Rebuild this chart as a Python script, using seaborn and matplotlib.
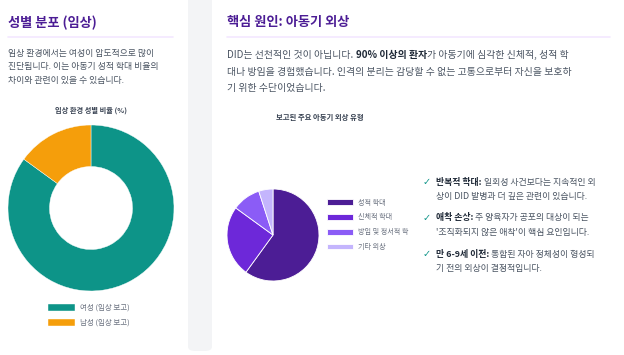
import numpy as np
import matplotlib
matplotlib.use("Agg")
import matplotlib.pyplot as plt
import seaborn as sns
from matplotlib.patches import FancyBboxPatch
from matplotlib.lines import Line2D

# data
gender_labels = ["여성 (임상 보고)", "남성 (임상 보고)"]
gender_values = [85, 15]
gender_colors = ["#0d9488", "#f59e0b"]

trauma_labels = ["성적 학대", "신체적 학대", "방임 및 정서적 학", "기타 외상"]
trauma_values = [60, 25, 10, 5]
trauma_colors = ["#4c1d95", "#6d28d9", "#8b5cf6", "#c4b5fd"]

sns.set_theme(style="white")
plt.rcParams["font.family"] = ["Noto Sans CJK KR", "DejaVu Sans"]

W, H = 624, 355
fig = plt.figure(figsize=(W / 100, H / 100), dpi=100)
fig.patch.set_facecolor("white")
renderer = fig.canvas.get_renderer()


def px(x):
    return x / W


def py(y):
    return 1 - y / H


def box(x0, y0, x1, y1):
    return [px(x0), py(y1), px(x1) - px(x0), py(y0) - py(y1)]


# background gap between the cards
gap = FancyBboxPatch((px(188), py(351)), px(24), py(0) - py(351) + 0.02,
                     boxstyle="round,pad=0,rounding_size=0.012",
                     transform=fig.transFigure, facecolor="#f3f4f6",
                     edgecolor="none", zorder=0)
fig.patches.append(gap)

TITLE_C = "#4c1d95"
TEXT_C = "#4b5563"
DARK_C = "#1f2937"
RULE_C = "#f3e8ff"


def seg_line(x, y, parts, size):
    for txt, bold, color in parts:
        t = fig.text(px(x), py(y), txt, fontsize=size,
                     fontweight="bold" if bold else "normal",
                     color=color, ha="left", va="center")
        x += t.get_window_extent(renderer).width


# ---- left card ----
fig.text(px(8), py(23), "성별 분포 (임상)", fontsize=9.5, fontweight="bold",
         color=TITLE_C, ha="left", va="center")
fig.add_artist(Line2D([px(8), px(173)], [py(37), py(37)], color=RULE_C,
                      lw=1.2, transform=fig.transFigure))
for i, line in enumerate(["임상 환경에서는 여성이 압도적으로 많이",
                          "진단됩니다. 이는 아동기 성적 학대 비율의",
                          "차이와 관련이 있을 수 있습니다."]):
    fig.text(px(8), py(53 + i * 13.5), line, fontsize=6.4, color=TEXT_C,
             ha="left", va="center")
fig.text(px(91), py(110), "임상 환경 성별 비율 (%)", fontsize=5.2,
         fontweight="bold", color="#374151", ha="center", va="center")

ax1 = fig.add_axes(box(8, 125, 174, 291))
w1, _ = ax1.pie(gender_values, colors=gender_colors, startangle=90,
                counterclock=False, radius=1,
                wedgeprops=dict(width=0.5, edgecolor="white", linewidth=0.3))
ax1.set_xlim(-1, 1)
ax1.set_ylim(-1, 1)
ax1.set_aspect("equal")
ax1.axis("off")
fig.legend(w1, gender_labels, loc="upper left",
           bbox_to_anchor=(px(48), py(304)), frameon=False, fontsize=5.4,
           handlelength=3.6, handleheight=1.05, handletextpad=0.7,
           labelspacing=0.9, borderpad=0, borderaxespad=0,
           labelcolor="#6b7280")

# ---- right card ----
fig.text(px(227), py(22), "핵심 원인: 아동기 외상", fontsize=9.5,
         fontweight="bold", color=TITLE_C, ha="left", va="center")
fig.add_artist(Line2D([px(227), px(610)], [py(37), py(37)], color=RULE_C,
                      lw=1.2, transform=fig.transFigure))
seg_line(227, 55, [("DID는 선천적인 것이 아닙니다. ", False, TEXT_C),
                   ("90% 이상의 환자", True, DARK_C),
                   ("가 아동기에 심각한 신체적, 성적 학", False, TEXT_C)], 7.1)
seg_line(227, 72, [("대나 방임을 경험했습니다. 인격의 분리는 감당할 수 없는 고통으로부터 자신을 보호하",
                    False, TEXT_C)], 7.1)
seg_line(227, 88, [("기 위한 수단이었습니다.", False, TEXT_C)], 7.1)

fig.text(px(320), py(117), "보고된 주요 아동기 외상 유형", fontsize=5.3,
         fontweight="bold", color="#374151", ha="center", va="center")

ax2 = fig.add_axes(box(227, 189, 319, 281))
w2, _ = ax2.pie(trauma_values, colors=trauma_colors, startangle=90,
                counterclock=False, radius=1,
                wedgeprops=dict(edgecolor="white", linewidth=0.6))
ax2.set_xlim(-1, 1)
ax2.set_ylim(-1, 1)
ax2.set_aspect("equal")
ax2.axis("off")
fig.legend(w2, trauma_labels, loc="upper left",
           bbox_to_anchor=(px(327), py(198.5)), frameon=False, fontsize=5.1,
           handlelength=3.66, handleheight=0.85, handletextpad=0.7,
           labelspacing=0.97, borderpad=0, borderaxespad=0,
           labelcolor="#6b7280")

bullets = [
    ("반복적 학대:", " 일회성 사건보다는 지속적인 외", "상이 DID 발병과 더 깊은 관련이 있습니다."),
    ("애착 손상:", " 주 양육자가 공포의 대상이 되는", "'조직화되지 않은 애착'이 핵심 요인입니다."),
    ("만 6-9세 이전:", " 통합된 자아 정체성이 형성되", "기 전의 외상이 결정적입니다."),
]
for i, (lead, rest, second) in enumerate(bullets):
    y = 182 + i * 36
    fig.text(px(427), py(y), "✓", fontsize=7, color="#0d9488",
             ha="center", va="center", family=["DejaVu Sans"])
    seg_line(436, y, [(lead, True, DARK_C), (rest, False, TEXT_C)], 6.4)
    seg_line(436, y + 14, [(second, False, TEXT_C)], 6.4)

fig.savefig("out.png", dpi=100, facecolor=fig.get_facecolor())
